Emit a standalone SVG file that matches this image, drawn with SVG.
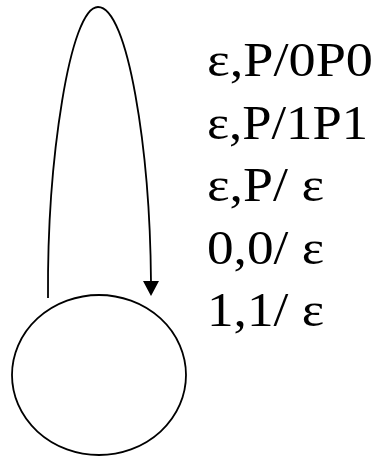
<svg xmlns="http://www.w3.org/2000/svg" width="379" height="456" viewBox="0 0 379 456">
<defs>
<style>
.lbl{font-family:"Liberation Serif","Times New Roman",serif;font-size:48px;fill:#000}
.st{fill:#fff;stroke:#000;stroke-width:1.8}
.cn{fill:none;stroke:#000;stroke-width:1.8}
</style>
</defs>
<rect width="379" height="456" fill="#fff"/>
<g id="connectors">
<path class="cn" d="M48,298 C47,160 70,7 98,7 C128,7 150,150 151,282"/>
<path d="M143,281 L159,281 L151,296 Z" fill="#000"/>
</g>
<g id="state">
<ellipse class="st" cx="99" cy="375" rx="87" ry="80"/>
</g>
<g id="label">
<text class="lbl" x="207" y="76" textLength="166" lengthAdjust="spacingAndGlyphs">ε,P/0P0</text>
<text class="lbl" x="207" y="138.5" textLength="161" lengthAdjust="spacingAndGlyphs">ε,P/1P1</text>
<text class="lbl" x="207" y="201" textLength="117" lengthAdjust="spacingAndGlyphs">ε,P/ ε</text>
<text class="lbl" x="207" y="263.5" textLength="117" lengthAdjust="spacingAndGlyphs">0,0/ ε</text>
<text class="lbl" x="207" y="326" textLength="117" lengthAdjust="spacingAndGlyphs">1,1/ ε</text>
</g>
</svg>
